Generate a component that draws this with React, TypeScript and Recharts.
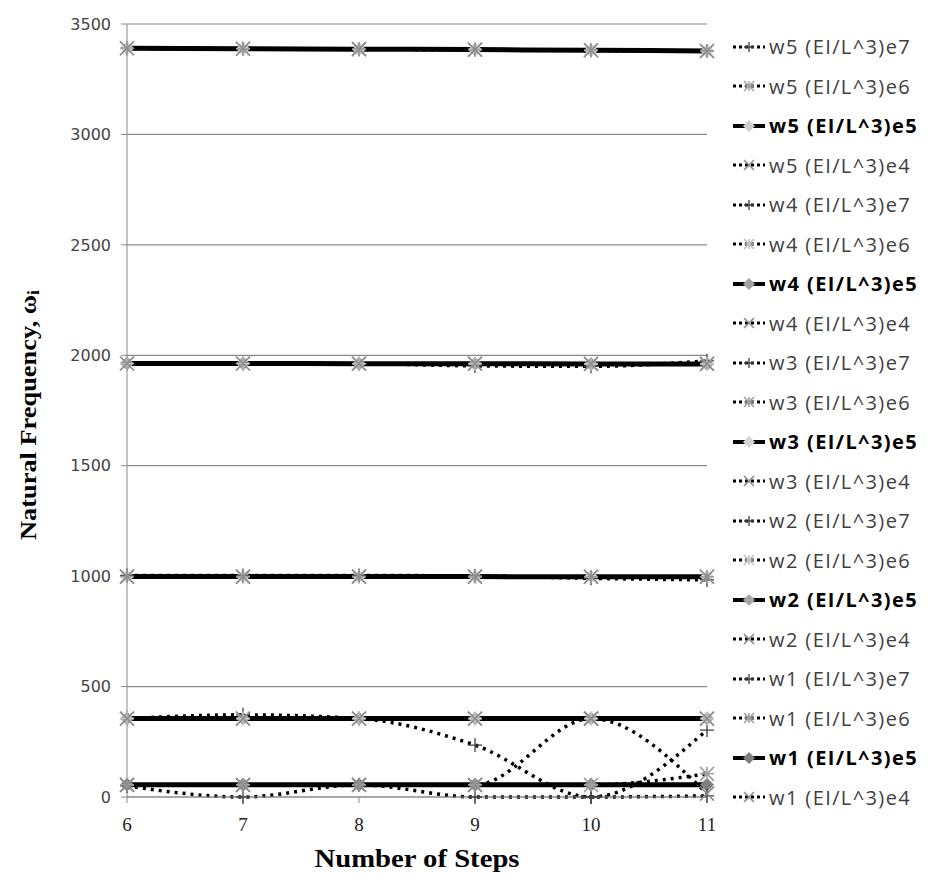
import React from "react";
import { LineChart, Line, XAxis, YAxis, CartesianGrid, Label } from "recharts";

const steps = [6, 7, 8, 9, 10, 11];
const yTicks = [0, 500, 1000, 1500, 2000, 2500, 3000, 3500];

// mode 5
const w5e7 = [3390, 3388, 3386, 3384, 3381, 3378];
const w5e6 = [3390, 3388, 3386, 3384, 3381, 3378];
const w5e5 = [3390, 3388, 3386, 3384, 3381, 3378];
const w5e4 = [3390, 3388, 3386, 3384, 3381, 3378];
// mode 4
const w4e7 = [1963, 1963, 1962, 1952, 1950, 1975];
const w4e6 = [1963, 1963, 1962, 1962, 1961, 1961];
const w4e5 = [1963, 1963, 1962, 1962, 1961, 1961];
const w4e4 = [1963, 1963, 1962, 1962, 1961, 1961];
// mode 3
const w3e7 = [1003, 1003, 1003, 1001, 990, 983];
const w3e6 = [998, 998, 998, 998, 997, 997];
const w3e5 = [998, 998, 998, 998, 997, 997];
const w3e4 = [998, 998, 998, 998, 997, 997];
// mode 2
const w2e7 = [355, 372, 355, 235, 0, 303];
const w2e6 = [355, 355, 355, 355, 355, 355];
const w2e5 = [355, 355, 355, 355, 355, 355];
const w2e4 = [355, 355, 355, 355, 355, 355];
// mode 1
const w1e7 = [50, 0, 55, 0, 0, 5];
const w1e6 = [55, 55, 55, 55, 55, 105];
const w1e5 = [55, 55, 55, 55, 55, 55];
const w1e4 = [55, 55, 55, 55, 355, 15];

type Kind = "e7" | "e6" | "e5" | "e4";
interface Series {
  key: string;
  name: string;
  values: number[];
  kind: Kind;
  fill: string;
}

const series: Series[] = [
  { key: "w5e7", name: "w5 (EI/L^3)e7", values: w5e7, kind: "e7", fill: "#404040" },
  { key: "w5e6", name: "w5 (EI/L^3)e6", values: w5e6, kind: "e6", fill: "#a8a8a8" },
  { key: "w5e5", name: "w5 (EI/L^3)e5", values: w5e5, kind: "e5", fill: "#cccccc" },
  { key: "w5e4", name: "w5 (EI/L^3)e4", values: w5e4, kind: "e4", fill: "#8c8c8c" },
  { key: "w4e7", name: "w4 (EI/L^3)e7", values: w4e7, kind: "e7", fill: "#404040" },
  { key: "w4e6", name: "w4 (EI/L^3)e6", values: w4e6, kind: "e6", fill: "#c0c0c0" },
  { key: "w4e5", name: "w4 (EI/L^3)e5", values: w4e5, kind: "e5", fill: "#a0a0a0" },
  { key: "w4e4", name: "w4 (EI/L^3)e4", values: w4e4, kind: "e4", fill: "#8c8c8c" },
  { key: "w3e7", name: "w3 (EI/L^3)e7", values: w3e7, kind: "e7", fill: "#404040" },
  { key: "w3e6", name: "w3 (EI/L^3)e6", values: w3e6, kind: "e6", fill: "#a0a0a0" },
  { key: "w3e5", name: "w3 (EI/L^3)e5", values: w3e5, kind: "e5", fill: "#d4d4d4" },
  { key: "w3e4", name: "w3 (EI/L^3)e4", values: w3e4, kind: "e4", fill: "#8c8c8c" },
  { key: "w2e7", name: "w2 (EI/L^3)e7", values: w2e7, kind: "e7", fill: "#404040" },
  { key: "w2e6", name: "w2 (EI/L^3)e6", values: w2e6, kind: "e6", fill: "#c4c4c4" },
  { key: "w2e5", name: "w2 (EI/L^3)e5", values: w2e5, kind: "e5", fill: "#a6a6a6" },
  { key: "w2e4", name: "w2 (EI/L^3)e4", values: w2e4, kind: "e4", fill: "#8c8c8c" },
  { key: "w1e7", name: "w1 (EI/L^3)e7", values: w1e7, kind: "e7", fill: "#404040" },
  { key: "w1e6", name: "w1 (EI/L^3)e6", values: w1e6, kind: "e6", fill: "#a0a0a0" },
  { key: "w1e5", name: "w1 (EI/L^3)e5", values: w1e5, kind: "e5", fill: "#7f7f7f" },
  { key: "w1e4", name: "w1 (EI/L^3)e4", values: w1e4, kind: "e4", fill: "#8c8c8c" },
];

const data = steps.map((step, i) => {
  const row: Record<string, number> = { step };
  series.forEach((s) => (row[s.key] = s.values[i]));
  return row;
});

function Marker({ cx, cy, kind, fill, r = 7 }: { cx: number; cy: number; kind: Kind; fill: string; r?: number }) {
  if (kind === "e5") {
    return (
      <polygon
        points={`${cx},${cy - r} ${cx + r},${cy} ${cx},${cy + r} ${cx - r},${cy}`}
        fill={fill}
      />
    );
  }
  const cross = `M${cx - r},${cy - r}L${cx + r},${cy + r}M${cx - r},${cy + r}L${cx + r},${cy - r}`;
  const plus = `M${cx - r},${cy}L${cx + r},${cy}M${cx},${cy - r}L${cx},${cy + r}`;
  const d = kind === "e7" ? plus : kind === "e4" ? cross : cross + plus;
  return <path d={d} stroke={fill} strokeWidth={kind === "e7" ? 1.3 : 1.6} fill="none" />;
}

const lineProps = (s: Series) =>
  s.kind === "e5"
    ? { stroke: "#000", strokeWidth: 5 }
    : { stroke: "#000", strokeWidth: 3.5, strokeDasharray: "3 5" };

function LegendSymbol({ s }: { s: Series }) {
  return (
    <svg width={32} height={20} style={{ display: "block", flex: "none" }}>
      <line
        x1={0}
        x2={32}
        y1={10}
        y2={10}
        stroke="#000"
        strokeWidth={s.kind === "e5" ? 4 : 3}
        strokeDasharray={s.kind === "e5" ? undefined : "3 3"}
      />
      <Marker cx={16} cy={10} kind={s.kind} fill={s.fill} r={s.kind === "e5" ? 6 : 5} />
    </svg>
  );
}

const titleFont = "'Liberation Serif', 'Times New Roman', serif";

function YTitle() {
  const x = 28;
  const y = 415;
  return (
    <text
      x={x}
      y={y}
      transform={`rotate(-90 ${x} ${y})`}
      textAnchor="middle"
      dominantBaseline="central"
      fontFamily={titleFont}
      fontWeight="bold"
      fontSize={24}
      fill="#000"
      textLength={250}
      lengthAdjust="spacingAndGlyphs"
    >
      Natural Frequency, ω
      <tspan fontSize={16} dy={5}>
        i
      </tspan>
    </text>
  );
}

function XTitle() {
  return (
    <text
      x={417}
      y={858}
      textAnchor="middle"
      dominantBaseline="central"
      fontFamily={titleFont}
      fontWeight="bold"
      fontSize={26}
      fill="#000"
      textLength={205}
      lengthAdjust="spacingAndGlyphs"
    >
      Number of Steps
    </text>
  );
}

export default function App() {
  return (
    <div
      style={{
        position: "absolute",
        left: 0,
        top: 0,
        width: 935,
        height: 896,
        background: "#fff",
      }}
    >
      <LineChart
        width={935}
        height={896}
        data={data}
        margin={{ top: 24, right: 228, bottom: 0, left: 0 }}
      >
        <CartesianGrid vertical={false} stroke="#8a8a8a" strokeWidth={1.2} />
        <XAxis
          dataKey="step"
          type="number"
          domain={[6, 11]}
          ticks={steps}
          height={99}
          tickSize={6}
          tickMargin={15}
          stroke="#8a8a8a"
          tick={{ fill: "#222", fontSize: 19, fontFamily: titleFont }}
        >
          <Label content={<XTitle />} />
        </XAxis>
        <YAxis
          domain={[0, 3500]}
          ticks={yTicks}
          width={127}
          tickSize={6}
          tickMargin={10}
          stroke="#8a8a8a"
          tick={{ fill: "#444", fontSize: 16, fontFamily: "'DejaVu Sans', sans-serif" }}
        >
          <Label content={<YTitle />} />
        </YAxis>
        {[...series.filter((s) => s.kind === "e5"), ...series.filter((s) => s.kind !== "e5")].map(
          (s) => (
            <Line
              key={s.key}
              dataKey={s.key}
              name={s.name}
              type="monotone"
              isAnimationActive={false}
              {...lineProps(s)}
              dot={(p: any) => (
                <Marker key={`${s.key}-${p.index}`} cx={p.cx} cy={p.cy} kind={s.kind} fill={s.fill} />
              )}
              activeDot={false}
            />
          )
        )}
      </LineChart>
      <div
        style={{
          position: "absolute",
          left: 733,
          top: 27,
          width: 202,
        }}
      >
        {series.map((s) => (
          <div
            key={s.key}
            style={{
              height: 39.5,
              display: "flex",
              alignItems: "center",
              gap: 4,
            }}
          >
            <LegendSymbol s={s} />
            <span
              style={{
                fontFamily: "'Open Sans', sans-serif",
                fontSize: 20,
                letterSpacing: 1.4,
                fontWeight: s.kind === "e5" ? 700 : 400,
                color: s.kind === "e5" ? "#000" : "#404040",
                whiteSpace: "nowrap",
              }}
            >
              {s.name}
            </span>
          </div>
        ))}
      </div>
    </div>
  );
}
